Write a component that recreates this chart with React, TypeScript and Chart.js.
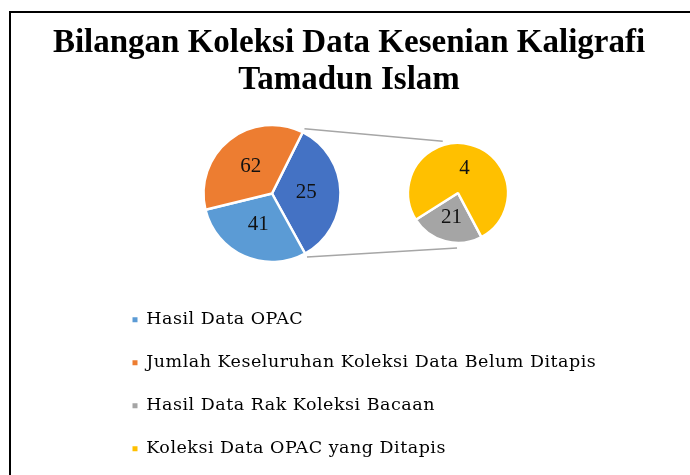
import React, { useEffect, useRef } from "react";
import { Chart, registerables } from "chart.js";

Chart.register(...registerables);

// ---- data ----
const titleLines = ["Bilangan Koleksi Data Kesenian Kaligrafi", "Tamadun Islam"];

const legendLabels = [
  "Hasil Data OPAC",
  "Jumlah Keseluruhan Koleksi Data Belum Ditapis",
  "Hasil Data Rak Koleksi Bacaan",
  "Koleksi Data OPAC yang Ditapis",
];
const legendColors = ["#5B9BD5", "#ED7D31", "#A5A5A5", "#FFC000"];

// main pie, clockwise from its start angle
const mainCategories = ["Lain-lain", "Hasil Data OPAC", "Jumlah Keseluruhan Koleksi Data Belum Ditapis"];
const mainShares = [34.6, 29.2, 36.2]; // slice sizes as drawn in the picture (%)
const mainValueLabels = ["25", "41", "62"]; // numbers printed on the slices
const mainColors = ["#4472C4", "#5B9BD5", "#ED7D31"];
const mainStartAngle = 26.6;

// secondary pie, clockwise from its start angle
const secondCategories = ["Hasil Data Rak Koleksi Bacaan", "Koleksi Data OPAC yang Ditapis"];
const secondShares = [23.8, 76.2];
const secondValueLabels = ["21", "4"];
const secondColors = ["#A5A5A5", "#FFC000"];
const secondStartAngle = 152;

const SERIF = "'Liberation Serif', 'Times New Roman', serif";
const LEGEND_FONT = "'DejaVu Serif', serif";

const valueLabels = {
  id: "valueLabels",
  afterDatasetsDraw(chart: any, _args: any, opts: any) {
    const meta = chart.getDatasetMeta(0);
    const ctx = chart.ctx;
    ctx.save();
    ctx.font = `21px ${SERIF}`;
    ctx.fillStyle = "#111111";
    ctx.textAlign = "center";
    ctx.textBaseline = "middle";
    meta.data.forEach((arc: any, i: number) => {
      const p = arc.tooltipPosition(false);
      ctx.fillText(opts.labels[i], p.x, p.y);
    });
    ctx.restore();
  },
};

// slightly wider tracking for the legend text
const legendTracking = {
  id: "legendTracking",
  beforeDraw(chart: any) {
    (chart.ctx as any).letterSpacing = "0.5px";
  },
};

export default function App() {
  const titleRef = useRef<HTMLCanvasElement>(null);
  const legendRef = useRef<HTMLCanvasElement>(null);
  const mainRef = useRef<HTMLCanvasElement>(null);
  const secondRef = useRef<HTMLCanvasElement>(null);

  useEffect(() => {
    const titleChart = new Chart(titleRef.current as HTMLCanvasElement, {
      type: "pie",
      data: { labels: [], datasets: [] },
      options: {
        animation: false,
        responsive: false,
        layout: { padding: { top: 10, left: 45, right: 37, bottom: 10 } },
        plugins: {
          tooltip: { enabled: false },
          legend: { display: false },
          title: {
            display: true,
            text: titleLines,
            color: "#000000",
            font: { family: SERIF, size: 33, weight: "bold", lineHeight: 1.15 },
            padding: { top: 14, bottom: 0 },
          },
        },
      },
    } as any);

    const legendChart = new Chart(legendRef.current as HTMLCanvasElement, {
      type: "pie",
      data: { labels: legendLabels, datasets: [] },
      options: {
        animation: false,
        responsive: false,
        layout: { padding: { top: 0, left: 107, right: 40, bottom: 7.5 } },
        plugins: {
          tooltip: { enabled: false },
          legend: {
            display: true,
            position: "bottom",
            align: "start",
            labels: {
              boxWidth: 5,
              boxHeight: 5,
              padding: 25.5,
              color: "#000000",
              font: { family: LEGEND_FONT, size: 17.5 },
              generateLabels: () =>
                legendLabels.map((text, i) => ({
                  text,
                  fillStyle: legendColors[i],
                  strokeStyle: legendColors[i],
                  lineWidth: 0,
                  hidden: false,
                  index: i,
                  fontColor: "#000000",
                })),
            },
          },
        },
      },
      plugins: [legendTracking],
    } as any);

    const main = new Chart(mainRef.current as HTMLCanvasElement, {
      type: "pie",
      data: {
        labels: mainCategories,
        datasets: [
          {
            data: mainShares,
            backgroundColor: mainColors,
            borderColor: "#ffffff",
            borderWidth: 2.5,
            radius: 68.5,
            rotation: mainStartAngle,
          },
        ],
      },
      options: {
        animation: false,
        responsive: false,
        layout: { padding: { left: 197, right: 343, top: 118, bottom: 206 } },
        plugins: {
          legend: { display: false },
          tooltip: { enabled: false },
          valueLabels: { labels: mainValueLabels },
        },
      },
      plugins: [valueLabels],
    } as any);

    const connectors = {
      id: "connectors",
      beforeDatasetsDraw(chart: any) {
        const m: any = main.getDatasetMeta(0).data[0];
        const s: any = chart.getDatasetMeta(0).data[0];
        if (!m || !s) return;
        const ctx = chart.ctx;
        const mr = m.outerRadius + 4;
        const p1 = { x: m.x + Math.cos(m.startAngle) * mr, y: m.y + Math.sin(m.startAngle) * mr };
        const p2 = { x: m.x + Math.cos(m.endAngle) * mr, y: m.y + Math.sin(m.endAngle) * mr };
        const topA = ((-16.4 - 90) * Math.PI) / 180;
        const botA = ((181 - 90) * Math.PI) / 180;
        const q1 = { x: s.x + Math.cos(topA) * s.outerRadius * 1.08, y: s.y + Math.sin(topA) * s.outerRadius * 1.08 };
        const q2 = { x: s.x + Math.cos(botA) * s.outerRadius * 1.1, y: s.y + Math.sin(botA) * s.outerRadius * 1.1 };
        ctx.save();
        ctx.strokeStyle = "#A6A6A6";
        ctx.lineWidth = 1.5;
        ctx.beginPath();
        ctx.moveTo(p1.x, p1.y);
        ctx.lineTo(q1.x, q1.y);
        ctx.moveTo(p2.x, p2.y);
        ctx.lineTo(q2.x, q2.y);
        ctx.stroke();
        ctx.restore();
      },
    };

    const second = new Chart(secondRef.current as HTMLCanvasElement, {
      type: "pie",
      data: {
        labels: secondCategories,
        datasets: [
          {
            data: secondShares,
            backgroundColor: secondColors,
            borderColor: "#ffffff",
            borderWidth: 2.5,
            radius: 50,
            rotation: secondStartAngle,
          },
        ],
      },
      options: {
        animation: false,
        responsive: false,
        layout: { padding: { left: 398, right: 172, top: 133, bottom: 222 } },
        plugins: {
          legend: { display: false },
          tooltip: { enabled: false },
          valueLabels: { labels: secondValueLabels },
        },
      },
      plugins: [connectors, valueLabels],
    } as any);

    return () => {
      titleChart.destroy();
      legendChart.destroy();
      main.destroy();
      second.destroy();
    };
  }, []);

  const canvasStyle: React.CSSProperties = { position: "absolute", left: 0, top: 0, width: 690, height: 475 };

  return (
    <div style={{ position: "fixed", left: 0, top: 0, width: 690, height: 475, overflow: "hidden", background: "#ffffff" }}>
      <div
        style={{
          position: "absolute",
          left: 9,
          top: 11,
          width: 720,
          height: 520,
          borderLeft: "2px solid #000000",
          borderTop: "2px solid #000000",
        }}
      />
      <canvas ref={titleRef} width={690} height={475} style={canvasStyle} />
      <canvas ref={legendRef} width={690} height={475} style={canvasStyle} />
      <canvas ref={mainRef} width={690} height={475} style={canvasStyle} />
      <canvas ref={secondRef} width={690} height={475} style={canvasStyle} />
    </div>
  );
}
